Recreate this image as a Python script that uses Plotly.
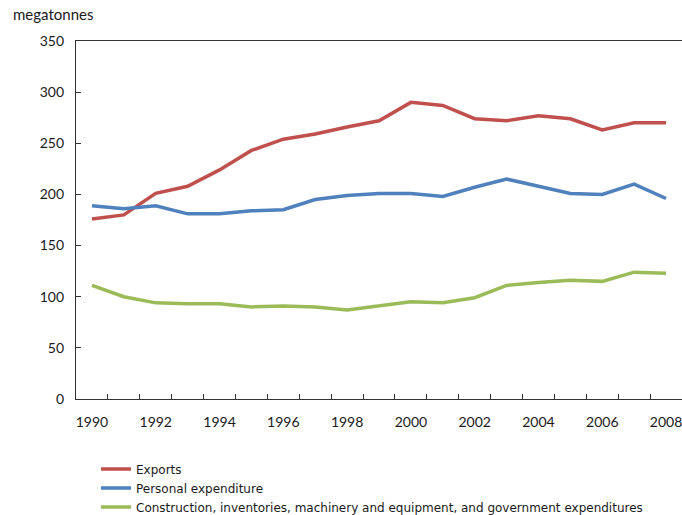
import plotly.graph_objects as go

years = list(range(1990, 2009))
exports = [176, 180, 201, 208, 224, 243, 254, 259, 266, 272, 290, 287, 274, 272, 277, 274, 263, 270, 270]
personal = [189, 186, 189, 181, 181, 184, 185, 195, 199, 201, 201, 198, 207, 215, 208, 201, 200, 210, 196]
construction = [111, 100, 94, 93, 93, 90, 91, 90, 87, 91, 95, 94, 99, 111, 114, 116, 115, 124, 123]

series_names = ["Exports", "Personal expenditure",
                "Construction, inventories, machinery and equipment, and government expenditures"]
colors = ["#C0504D", "#4F81BD", "#9BBB59"]
y_ticks = [0, 50, 100, 150, 200, 250, 300, 350]
x_labels = list(range(1990, 2009, 2))

FONT = "Lato, 'Open Sans', sans-serif"

fig = go.Figure()
for name, vals, col in zip(series_names, [exports, personal, construction], colors):
    fig.add_trace(go.Scatter(x=years, y=vals, mode="lines", name=name,
                             line=dict(color=col, width=3.5)))

fig.update_layout(
    width=682, height=515,
    template="none",
    plot_bgcolor="white", paper_bgcolor="white",
    margin=dict(l=76, r=0, t=41, b=116, autoexpand=False),
    font=dict(family=FONT, color="#1a1a1a"),
    showlegend=True,
    legend=dict(x=0.033, y=-0.155, xanchor="left", yanchor="top",
                font=dict(size=12, family="DejaVu Sans", color="#1a1a1a"),
                tracegroupgap=0, bgcolor="rgba(0,0,0,0)", itemwidth=30),
)
fig.add_annotation(text="megatonnes", xref="paper", yref="paper",
                   x=-0.108, y=1.075, xanchor="left", yanchor="middle",
                   showarrow=False, font=dict(size=15, family=FONT, color="#1a1a1a"))

fig.update_xaxes(
    range=[1989.5, 2008.5], showgrid=False, zeroline=False,
    showline=True, linecolor="#333", linewidth=1.3, mirror=True,
    tickvals=x_labels, ticktext=[str(v) for v in x_labels], ticks="",
    tickfont=dict(size=14, family=FONT), automargin=False,
    ticklabeloverflow="allow", ticklabelstandoff=10,
    minor=dict(tickvals=[y + 0.5 for y in range(1990, 2008)], ticks="inside",
               ticklen=5, tickcolor="#333", tickwidth=1, showgrid=False),
)
fig.update_yaxes(
    range=[0, 350], showgrid=False, zeroline=False,
    showline=True, linecolor="#333", linewidth=1.3,
    tickvals=y_ticks, ticks="inside", ticklen=5, tickcolor="#333",
    tickfont=dict(size=14, family=FONT), automargin=False, ticklabelstandoff=8,
)

fig.write_html("out.html")
